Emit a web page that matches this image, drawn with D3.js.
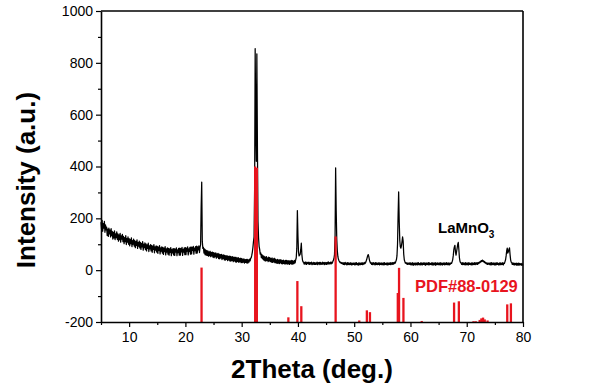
<!DOCTYPE html>
<html>
<head>
<meta charset="utf-8">
<script src="https://cdn.jsdelivr.net/npm/d3@7"></script>
<style>
  html, body { margin: 0; padding: 0; background: #fff; }
  svg { display: block; }
  text { font-family: "Liberation Sans", Arial, sans-serif; }
</style>
</head>
<body>
<svg id="chart" width="600" height="391"></svg>
<script>
// ---- Data ----
const scanStart = 5;      // 2Theta of first sample (deg.)
const scanStep = 0.1;     // sampling step (deg.)
const intensity = [
  185,158,192,150,180,162,188,146,175,155,
  166,134,158,130,162,140,155,128,160,133,
  150,120,146,125,152,118,140,126,148,119,
  140,112,136,118,142,108,132,120,138,110,
  130,102,126,110,133,99,122,108,128,100,
  122,94,118,102,125,91,114,100,120,93,
  114,87,110,96,117,84,106,93,112,86,
  107,80,103,90,110,77,100,87,105,79,
  101,74,98,84,104,72,94,82,99,74,
  96,69,93,80,99,67,90,77,94,70,
  92,65,89,76,95,63,86,73,90,66,
  88,61,85,72,91,59,82,70,86,62,
  84,58,82,69,87,56,79,67,83,59,
  83,57,81,70,86,56,78,68,84,58,
  85,58,83,71,88,57,80,70,86,60,
  87,60,85,73,90,59,82,72,88,62,
  90,63,88,76,92,62,85,75,91,65,
  93,66,90,78,94,68,88,98,245,340,
  112,84,88,66,82,60,78,58,75,57,
  74,54,71,56,73,52,69,55,70,50,
  68,48,66,52,67,46,63,50,65,45,
  62,44,60,47,61,41,58,45,59,40,
  57,39,55,42,56,37,53,40,54,36,
  53,35,51,38,52,33,49,36,50,32,
  49,31,47,34,48,30,45,33,46,29,
  45,29,43,31,44,27,41,30,42,28,
  42,27,40,31,43,36,46,48,58,70,
  88,110,128,310,855,560,420,835,480,190,
  125,92,80,62,66,48,60,44,56,40,
  53,37,50,35,52,38,47,33,50,36,
  48,33,45,31,47,30,44,32,46,29,
  43,28,40,26,42,27,39,25,41,28,
  40,25,37,24,39,26,36,23,38,25,
  38,23,36,24,37,22,35,25,38,23,
  37,23,35,25,38,28,40,48,85,230,
  135,70,55,58,62,80,104,60,40,32,
  31,23,30,24,32,22,29,25,31,23,
  30,22,29,24,31,21,28,23,30,22,
  29,22,28,23,31,21,29,24,30,21,
  30,23,28,22,31,24,29,21,30,23,
  29,22,30,24,32,23,29,25,31,24,
  31,27,33,38,45,60,130,395,230,120,
  75,52,42,36,33,29,31,26,29,24,
  29,22,28,21,30,23,27,20,29,22,
  28,21,27,22,29,20,26,21,28,22,
  27,20,28,21,29,22,26,19,28,21,
  28,21,27,22,29,21,27,23,30,25,
  28,33,40,48,56,60,52,40,32,27,
  29,22,28,21,29,23,27,20,29,22,
  28,21,27,22,29,20,27,22,28,21,
  27,21,28,20,29,22,26,21,28,20,
  28,21,27,22,29,21,28,23,29,22,
  29,25,31,27,34,40,55,100,210,302,
  190,115,90,85,95,110,128,112,62,40,
  33,27,29,24,28,22,27,23,28,22,
  28,20,27,21,29,19,26,21,28,20,
  27,21,28,20,29,22,26,20,28,21,
  28,20,27,22,29,21,27,19,28,22,
  27,21,29,20,28,22,26,21,29,20,
  28,20,27,21,29,19,27,22,28,21,
  27,21,28,20,29,21,26,20,28,22,
  28,20,27,22,29,21,27,21,28,20,
  27,23,28,26,32,40,55,78,90,96,
  70,58,72,85,100,107,80,48,34,29,
  28,22,29,21,28,22,27,20,29,21,
  27,21,28,20,29,22,26,21,28,20,
  28,21,27,22,29,21,28,23,29,22,
  29,25,31,28,34,31,37,34,39,33,
  36,30,33,27,29,24,28,22,27,23,
  27,21,28,20,29,21,27,22,28,20,
  27,20,28,21,29,22,26,20,28,21,
  28,21,27,22,29,20,27,26,33,40,
  55,75,85,66,72,80,86,60,40,31,
  29,22,28,21,27,20,26,21,27,19,
  26,20,27,19,26,21,25,19,26,20,
  22
];

// Reference pattern PDF#88-0129: stick positions and tops (drawn up from -200)
const refAngles = [22.87, 32.4, 32.7, 38.3, 39.9, 40.6, 46.7, 50.9, 52.25, 52.8,
  57.75, 57.97, 58.75, 62.0, 67.75, 68.6, 71.2, 71.6, 72.3, 72.6, 72.9, 73.2, 73.7, 77.2, 77.85];
const refTops = [10, 400, 395, -182, -42, -139, 130, -194, -155, -162,
  -88, 9, -107, -196, -125, -120, -197, -197, -192, -186, -183, -190, -194, -132, -128];

const xTicks = [10, 20, 30, 40, 50, 60, 70, 80];
const xMinorTicks = [5, 15, 25, 35, 45, 55, 65, 75];
const yTicks = [-200, 0, 200, 400, 600, 800, 1000];
const yMinorTicks = [-100, 100, 300, 500, 700, 900];

// ---- Chart ----
const svg = d3.select("#chart");
const x = d3.scaleLinear().domain([5, 80]).range([101, 523]);
const y = d3.scaleLinear().domain([-200, 1000]).range([322, 11]);
const RED = "#e8141e";

const points = intensity.map((v, i) => [scanStart + i * scanStep, v]);

// data line
svg.append("path")
  .datum(points)
  .attr("fill", "none")
  .attr("stroke", "#000")
  .attr("stroke-width", 1.25)
  .attr("stroke-linejoin", "round")
  .attr("d", d3.line().x(d => x(d[0])).y(d => y(d[1])));

// reference sticks
svg.append("g").selectAll("line")
  .data(refAngles.map((a, i) => [a, refTops[i]]))
  .join("line")
  .attr("x1", d => x(d[0])).attr("x2", d => x(d[0]))
  .attr("y1", y(-200)).attr("y2", d => y(d[1]))
  .attr("stroke", RED)
  .attr("stroke-width", 2.3);

// frame top and right
svg.append("line").attr("x1", x(5)).attr("x2", x(80)).attr("y1", y(1000)).attr("y2", y(1000))
  .attr("stroke", "#000").attr("stroke-width", 1.6);
svg.append("line").attr("x1", x(80)).attr("x2", x(80)).attr("y1", y(1000)).attr("y2", y(-200))
  .attr("stroke", "#000").attr("stroke-width", 1.6);

// axes
const fmt = d => String(d);
function styleAxis(g) {
  g.select(".domain").attr("stroke-width", 1.6);
  g.selectAll(".tick line").attr("stroke-width", 1.2);
  g.selectAll("text").attr("font-size", 14).attr("fill", "#000")
    .style("font-family", "'Liberation Sans', Arial, sans-serif");
}
svg.append("g").attr("transform", `translate(0,${y(-200)})`)
  .call(d3.axisBottom(x).tickValues(xMinorTicks).tickFormat("").tickSize(3).tickSizeOuter(0))
  .call(g => g.select(".domain").remove())
  .selectAll(".tick line").attr("stroke-width", 1.2);
svg.append("g").attr("transform", `translate(${x(5)},0)`)
  .call(d3.axisLeft(y).tickValues(yMinorTicks).tickFormat("").tickSize(3).tickSizeOuter(0))
  .call(g => g.select(".domain").remove())
  .selectAll(".tick line").attr("stroke-width", 1.2);

svg.append("g").attr("transform", `translate(0,${y(-200)})`)
  .call(d3.axisBottom(x).tickValues(xTicks).tickFormat(fmt).tickSize(5).tickSizeOuter(0).tickPadding(5))
  .call(styleAxis);
svg.append("g").attr("transform", `translate(${x(5)},0)`)
  .call(d3.axisLeft(y).tickValues(yTicks).tickFormat(fmt).tickSize(5).tickSizeOuter(0).tickPadding(3))
  .call(styleAxis);

// axis titles
svg.append("text")
  .attr("x", 312).attr("y", 378)
  .attr("text-anchor", "middle")
  .attr("font-size", 26).attr("font-weight", "bold")
  .text("2Theta (deg.)");
svg.append("text")
  .attr("transform", "translate(35,180) rotate(-90)")
  .attr("text-anchor", "middle")
  .attr("font-size", 26).attr("font-weight", "bold")
  .text("Intensity (a.u.)");

// annotations
const lab = svg.append("text").attr("x", 438).attr("y", 233)
  .attr("font-size", 15).attr("font-weight", "bold").attr("fill", "#000");
lab.append("tspan").text("LaMnO");
lab.append("tspan").attr("font-size", 10).attr("dy", 5).text("3");

svg.append("text").attr("x", 415).attr("y", 292)
  .attr("font-size", 16.5).attr("font-weight", "bold").attr("fill", RED)
  .text("PDF#88-0129");
</script>
</body>
</html>
